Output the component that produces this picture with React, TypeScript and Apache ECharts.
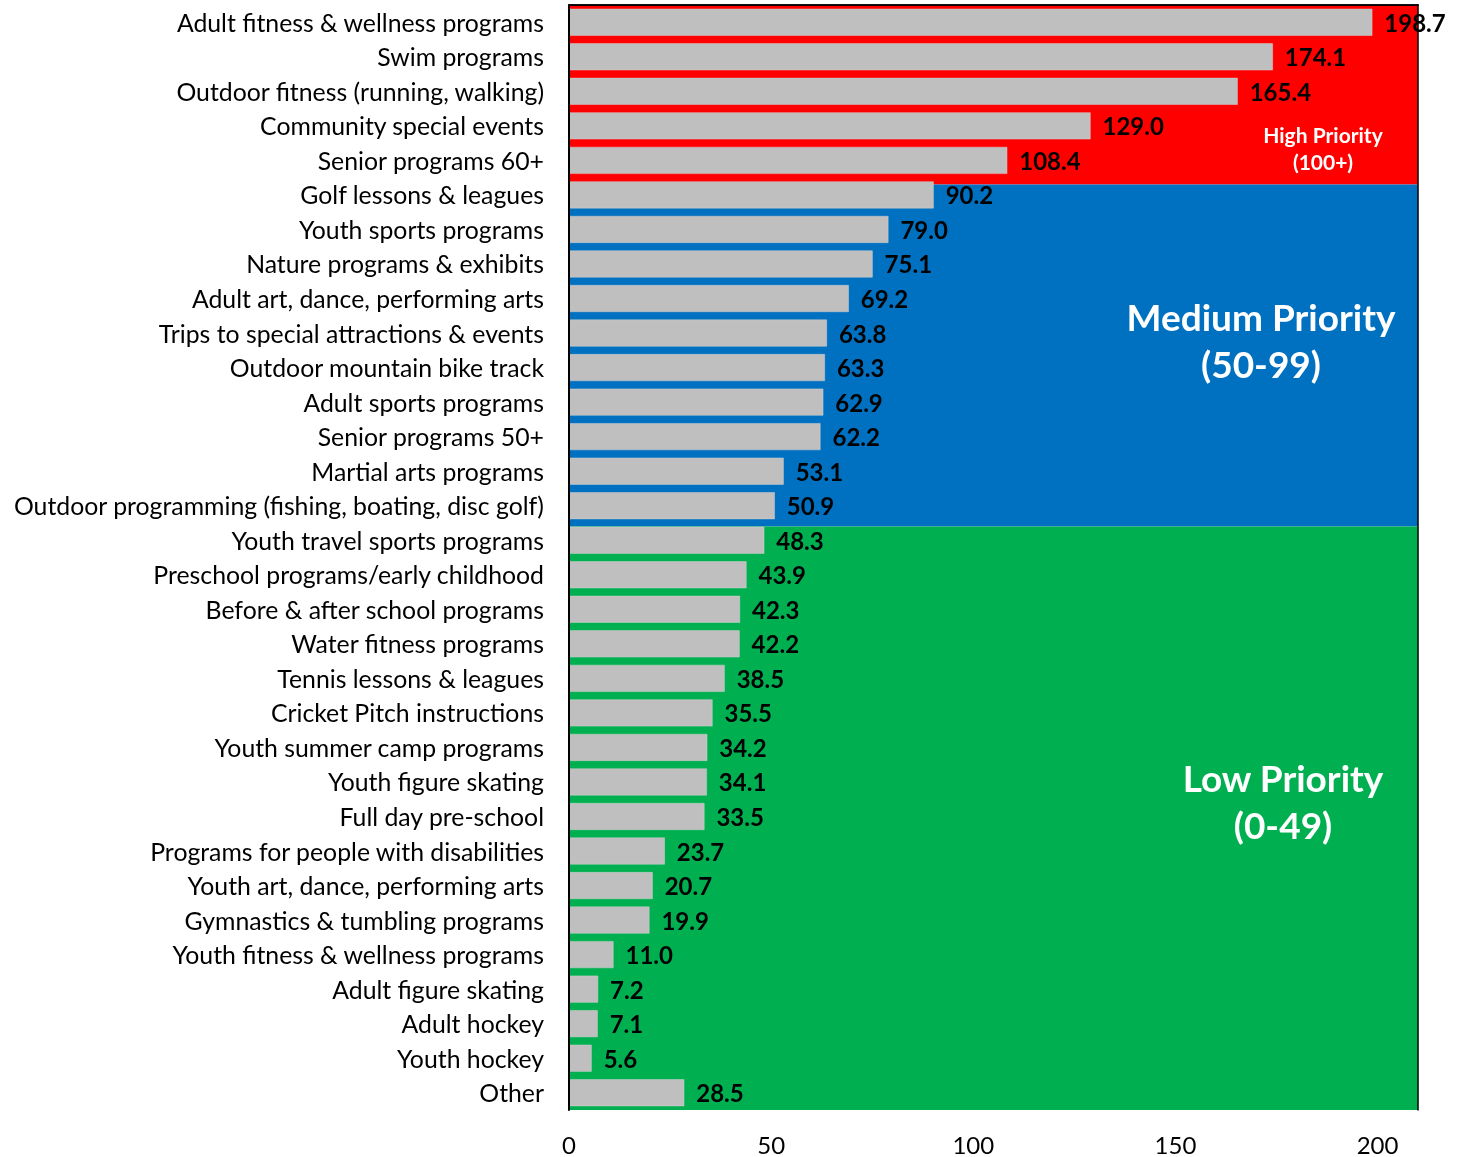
import React, { useEffect, useRef } from "react";
import * as echarts from "echarts";

const categories = [
  "Adult fitness & wellness programs",
  "Swim programs",
  "Outdoor fitness (running, walking)",
  "Community special events",
  "Senior programs 60+",
  "Golf lessons & leagues",
  "Youth sports programs",
  "Nature programs & exhibits",
  "Adult art, dance, performing arts",
  "Trips to special attractions & events",
  "Outdoor mountain bike track",
  "Adult sports programs",
  "Senior programs 50+",
  "Martial arts programs",
  "Outdoor programming (fishing, boating, disc golf)",
  "Youth travel sports programs",
  "Preschool programs/early childhood",
  "Before & after school programs",
  "Water fitness programs",
  "Tennis lessons & leagues",
  "Cricket Pitch instructions",
  "Youth summer camp programs",
  "Youth figure skating",
  "Full day pre-school",
  "Programs for people with disabilities",
  "Youth art, dance, performing arts",
  "Gymnastics & tumbling programs",
  "Youth fitness & wellness programs",
  "Adult figure skating",
  "Adult hockey",
  "Youth hockey",
  "Other",
];

const values = [
  198.7, 174.1, 165.4, 129.0, 108.4, 90.2, 79.0, 75.1, 69.2, 63.8, 63.3, 62.9,
  62.2, 53.1, 50.9, 48.3, 43.9, 42.3, 42.2, 38.5, 35.5, 34.2, 34.1, 33.5, 23.7,
  20.7, 19.9, 11.0, 7.2, 7.1, 5.6, 28.5,
];

// priority background bands, in row units (0 = top of first row)
const bandStart = [0, 5.2, 15.1];
const bandEnd = [5.2, 15.1, 32];
const bandColors = ["#FF0000", "#0070C0", "#00B050"];

const xMin = 0;
const xMax = 210;
const xInterval = 50;

const FONT = "Lato";

export default function App() {
  const ref = useRef<HTMLDivElement>(null);
  useEffect(() => {
    if (!ref.current) return;
    const chart = echarts.init(ref.current, undefined, { renderer: "svg" });
    const option: any = {
      animation: false,
      textStyle: { fontFamily: FONT },
      grid: { left: 569, top: 5, right: 45, bottom: 47, containLabel: false },
      xAxis: [
        {
          type: "value",
          min: xMin,
          max: xMax,
          interval: xInterval,
          position: "bottom",
          z: 10,
          axisLine: { show: true, lineStyle: { color: "#000", width: 1.5 } },
          axisTick: { show: false },
          splitLine: { show: false },
          axisLabel: {
            showMaxLabel: false,
            color: "#000",
            fontSize: 24,
            fontFamily: FONT,
            margin: 22,
          },
        },
        {
          type: "value",
          min: 0,
          max: 1,
          position: "top",
          z: 10,
          axisLine: { show: true, onZero: false, lineStyle: { color: "#000", width: 1.5 } },
          axisTick: { show: false },
          axisLabel: { show: false },
          splitLine: { show: false },
        },
      ],
      yAxis: [
        {
          type: "category",
          inverse: true,
          data: categories,
          z: 10,
          axisLine: { show: true, lineStyle: { color: "#000", width: 2 } },
          axisTick: { show: false },
          axisLabel: {
            color: "#000",
            fontSize: 24.8,
            fontFamily: FONT,
            margin: 25,
          },
        },
        {
          type: "value",
          min: 0,
          max: 32,
          inverse: true,
          position: "right",
          z: 10,
          axisLine: { show: true, onZero: false, lineStyle: { color: "#000", width: 1.5 } },
          axisTick: { show: false },
          axisLabel: { show: false },
          splitLine: { show: false },
        },
      ],
      series: [
        {
          type: "custom",
          xAxisIndex: 0,
          yAxisIndex: 1,
          z: 1,
          silent: true,
          data: bandStart.map((s, i) => [s, bandEnd[i]]),
          renderItem: (params: any, api: any) => {
            const p0 = api.coord([xMin, api.value(0)]);
            const p1 = api.coord([xMax, api.value(1)]);
            return {
              type: "rect",
              shape: { x: p0[0], y: p0[1], width: p1[0] - p0[0], height: p1[1] - p0[1] },
              style: { fill: bandColors[params.dataIndex] },
            };
          },
        },
        {
          type: "bar",
          xAxisIndex: 0,
          yAxisIndex: 0,
          z: 3,
          data: values,
          barCategoryGap: "22%",
          itemStyle: { color: "#BFBFBF", borderColor: "#D0D0D0", borderWidth: 0.5 },
          label: {
            show: true,
            position: "right",
            distance: 12,
            color: "#000",
            fontWeight: "bold",
            fontSize: 24,
            fontFamily: FONT,
            formatter: (p: any) => Number(p.value).toFixed(1),
          },
        },
      ],
      graphic: [
        {
          type: "text",
          z: 20,
          x: 1323,
          y: 148,
          style: {
            text: "High Priority\n(100+)",
            fill: "#fff",
            font: `bold 21px ${FONT}`,
            align: "center",
            verticalAlign: "middle",
            lineHeight: 27,
          },
        },
        {
          type: "text",
          z: 20,
          x: 1261,
          y: 340,
          style: {
            text: "Medium Priority\n(50-99)",
            fill: "#fff",
            font: `bold 37px ${FONT}`,
            align: "center",
            verticalAlign: "middle",
            lineHeight: 47,
          },
        },
        {
          type: "text",
          z: 20,
          x: 1283,
          y: 801,
          style: {
            text: "Low Priority\n(0-49)",
            fill: "#fff",
            font: `bold 37px ${FONT}`,
            align: "center",
            verticalAlign: "middle",
            lineHeight: 47,
          },
        },
      ],
    };
    chart.setOption(option);
    return () => chart.dispose();
  }, []);
  return (
    <div
      ref={ref}
      style={{ position: "fixed", left: 0, top: 0, width: 1463, height: 1157 }}
    />
  );
}
